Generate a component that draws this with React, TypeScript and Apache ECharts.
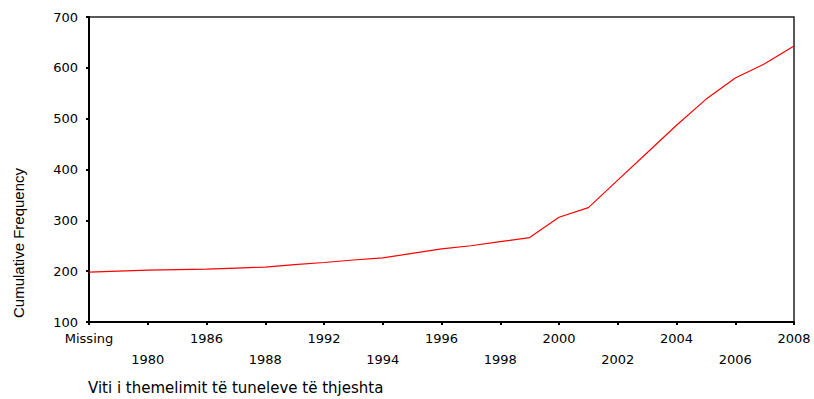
import React, { useEffect, useRef } from "react";
import * as echarts from "echarts";

const categories = [
  "Missing", "1970", "1980", "1985", "1986", "1987", "1988", "1990", "1992", "1993",
  "1994", "1995", "1996", "1997", "1998", "1999", "2000", "2001", "2002", "2003",
  "2004", "2005", "2006", "2007", "2008",
];
const cumulative = [
  198, 200, 202, 203, 204, 206, 208, 213, 217, 222,
  226, 235, 244, 250, 258, 266, 306, 325, 379, 433,
  487, 538, 580, 608, 643,
];
const yTicks = { min: 100, max: 700, interval: 100 };
const xTitle = "Viti i themelimit të tuneleve të thjeshta";
const yTitle = "Cumulative Frequency";

export default function App() {
  const ref = useRef<HTMLDivElement>(null);
  useEffect(() => {
    if (!ref.current) return;
    const chart = echarts.init(ref.current, null, { renderer: "svg" });
    const font = "DejaVu Sans";
    chart.setOption({
      animation: false,
      backgroundColor: "#ffffff",
      grid: {
        left: 89,
        top: 17,
        width: 705,
        height: 305,
        show: true,
        borderColor: "#222",
        borderWidth: 1.5,
        backgroundColor: "transparent",
      },
      xAxis: {
        type: "category",
        data: categories,
        boundaryGap: false,
        axisLine: { lineStyle: { color: "#000", width: 2 } },
        axisTick: { interval: 1, length: 3, lineStyle: { color: "#000", width: 2 } },
        axisLabel: {
          interval: 1,
          margin: 6,
          color: "#000",
          fontFamily: font,
          fontSize: 13,
          lineHeight: 21,
          formatter: (v: string, i: number) => (i % 4 === 0 ? v : "\n" + v),
        },
        splitLine: { show: false },
      },
      yAxis: {
        type: "value",
        min: yTicks.min,
        max: yTicks.max,
        interval: yTicks.interval,
        axisLine: { show: true, lineStyle: { color: "#000", width: 2 } },
        axisTick: { show: true, length: 3, lineStyle: { color: "#000", width: 2 } },
        axisLabel: { margin: 11, color: "#000", fontFamily: font, fontSize: 13 },
        splitLine: { show: false },
      },
      series: [
        {
          type: "line",
          data: cumulative,
          showSymbol: false,
          lineStyle: { color: "#ff0000", width: 1.2 },
        },
      ],
      graphic: [
        {
          type: "text",
          x: 88,
          y: 388,
          style: {
            text: xTitle,
            fill: "#000",
            font: "15px 'DejaVu Sans', sans-serif",
            textAlign: "left",
            textVerticalAlign: "middle",
          },
        },
        {
          type: "text",
          x: 18,
          y: 243,
          rotation: Math.PI / 2,
          style: {
            text: yTitle,
            fill: "#000",
            font: "15px 'Liberation Sans', Arial, sans-serif",
            textAlign: "center",
            textVerticalAlign: "middle",
          },
        },
      ],
    });
    return () => chart.dispose();
  }, []);
  return <div ref={ref} style={{ width: 814, height: 399, position: "absolute", left: 0, top: 0 }} />;
}
